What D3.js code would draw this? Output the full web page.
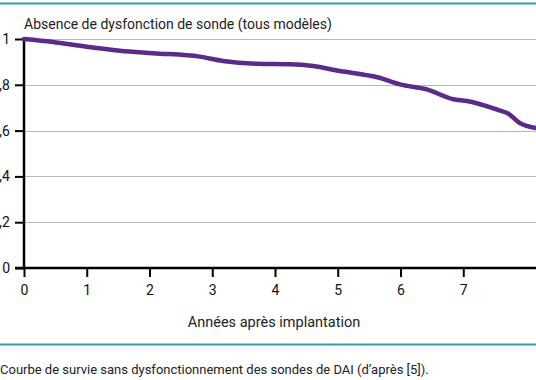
<!DOCTYPE html>
<html><head><meta charset="utf-8">
<script src="https://cdn.jsdelivr.net/npm/d3@7"></script>
<style>html,body{margin:0;padding:0;background:#fff;overflow:hidden}text{font-family:Roboto,"DejaVu Sans",sans-serif}</style>
</head><body><svg id="c" width="536" height="380"></svg>
<script>
const years = [0, 0.46, 1.0, 1.53, 2.06, 2.8, 3.17, 3.71, 4.24, 4.61, 5.04, 5.51, 5.63, 5.99, 6.42, 6.84, 7.06, 7.59, 7.7, 7.9, 8.16];
const survival = [1.0, 0.987, 0.966, 0.949, 0.938, 0.923, 0.904, 0.892, 0.89, 0.882, 0.86, 0.84, 0.833, 0.802, 0.78, 0.737, 0.729, 0.687, 0.677, 0.633, 0.611];
const xTicks = [0, 1, 2, 3, 4, 5, 6, 7];
const yTicks = [0, 0.2, 0.4, 0.6, 0.8, 1];
const yTickLabels = ["0", "0,2", "0,4", "0,6", "0,8", "1"];
const title = "Absence de dysfonction de sonde (tous modèles)";
const xTitle = "Années après implantation";
const caption = "Courbe de survie sans dysfonctionnement des sondes de DAI (d’après [5]).";

const svg = d3.select("#c");
const x = d3.scaleLinear().domain([0, 1]).range([24, 86.75]);
const y = d3.scaleLinear().domain([0, 1]).range([268, 39]);

svg.append("line").attr("x1",0).attr("x2",536).attr("y1",3.5).attr("y2",3.5).attr("stroke","#2a9db3").attr("stroke-width",2);
svg.append("line").attr("x1",0).attr("x2",536).attr("y1",344.5).attr("y2",344.5).attr("stroke","#2a9db3").attr("stroke-width",2);

svg.append("text").attr("x",24).attr("y",29).attr("font-size",14).attr("fill","#222").text(title);

// grid
svg.append("g").selectAll("line").data(yTicks.filter(d=>d>0)).join("line")
  .attr("x1",24).attr("x2",536).attr("y1",d=>Math.round(y(d))+0.5).attr("y2",d=>Math.round(y(d))+0.5)
  .attr("stroke","#b8b8b8").attr("stroke-width",1);

// y axis
const yAxis = d3.axisLeft(y).tickValues(yTicks).tickFormat((d,i)=>yTickLabels[i]).tickSize(9).tickPadding(5);
const gy = svg.append("g").attr("transform","translate(24,0)").call(yAxis);
gy.select(".domain").attr("stroke","#000").attr("stroke-width",2.5).attr("d","M0,268V39");
gy.selectAll(".tick line").attr("stroke","#000").attr("stroke-width",2);
gy.selectAll(".tick text").attr("font-size",14).attr("fill","#111").attr("font-family","Roboto,sans-serif");

// x axis
const xAxis = d3.axisBottom(x).tickValues(xTicks).tickFormat(d3.format("d")).tickSize(9).tickPadding(8);
const gx = svg.append("g").attr("transform","translate(0,268)").call(xAxis);
gx.select(".domain").attr("stroke","#000").attr("stroke-width",2.5).attr("d","M15,0H536");
gx.selectAll(".tick line").attr("stroke","#000").attr("stroke-width",2);
gx.selectAll(".tick text").attr("font-size",14).attr("fill","#111").attr("font-family","Roboto,sans-serif");

svg.append("text").attr("x",274).attr("y",327).attr("text-anchor","middle").attr("font-size",14.5).attr("fill","#222").text(xTitle);
svg.append("text").attr("x",0).attr("y",374).attr("font-size",13).attr("fill","#222").text(caption);

const line = d3.line().x((d,i)=>x(years[i])).y(d=>y(d)).curve(d3.curveMonotoneX);
svg.append("path").attr("d",line(survival)).attr("fill","none").attr("stroke","#5c2a8a").attr("stroke-width",4.5).attr("stroke-linecap","round");
</script></body></html>
